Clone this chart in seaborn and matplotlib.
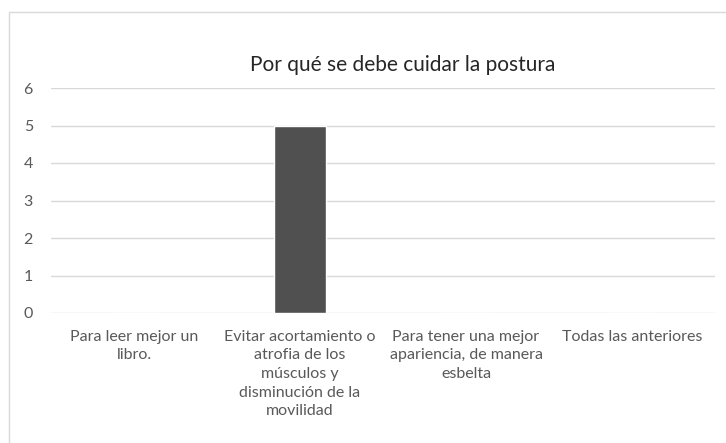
import numpy as np
import pandas as pd
import matplotlib
matplotlib.use("Agg")
import matplotlib.pyplot as plt
import seaborn as sns
from matplotlib.patches import Rectangle

categorias = ["Para leer mejor un\nlibro.",
              "Evitar acortamiento o\natrofia de los\nmúsculos y\ndisminución de la\nmovilidad",
              "Para tener una mejor\napariencia, de manera\nesbelta",
              "Todas las anteriores"]
valores = [0, 5, 0, 0]

df = pd.DataFrame({"Categoria": categorias, "Valor": valores})

sns.set_style("white")
plt.rcParams['font.family'] = ['Lato', 'DejaVu Sans']

fig = plt.figure(figsize=(7.26, 4.43), dpi=100)
ax = fig.add_axes([51/726, 1-313/443, 664/726, 225/443])

sns.barplot(x="Categoria", y="Valor", data=df, color="#505050", width=0.313,
            saturation=1, ax=ax, zorder=3)

ax.set_ylim(0, 6)
ax.set_xlim(-0.5, 3.5)
ax.set_yticks(range(0, 7))
ax.yaxis.grid(True, color="#d9d9d9", linewidth=1, zorder=0)
ax.set_xlabel("")
ax.set_ylabel("")
for s in ax.spines.values():
    s.set_visible(False)
ax.tick_params(axis="both", length=0, colors="#595959", labelsize=11.5)
ax.tick_params(axis="y", pad=13)
ax.tick_params(axis="x", pad=12)
for t in ax.get_xticklabels():
    t.set_linespacing(1.42)

fig.text(403/726, 1-65/443, "Por qué se debe cuidar la postura", ha="center", va="center",
         fontsize=15, color="#262626")

# marco del gráfico
fig.patches.append(Rectangle((9/726, -0.1), 1.1, 1 - 12/443 + 0.1, transform=fig.transFigure,
                             fill=False, edgecolor="#d9d9d9", linewidth=1))

fig.savefig("out.png", dpi=100)
